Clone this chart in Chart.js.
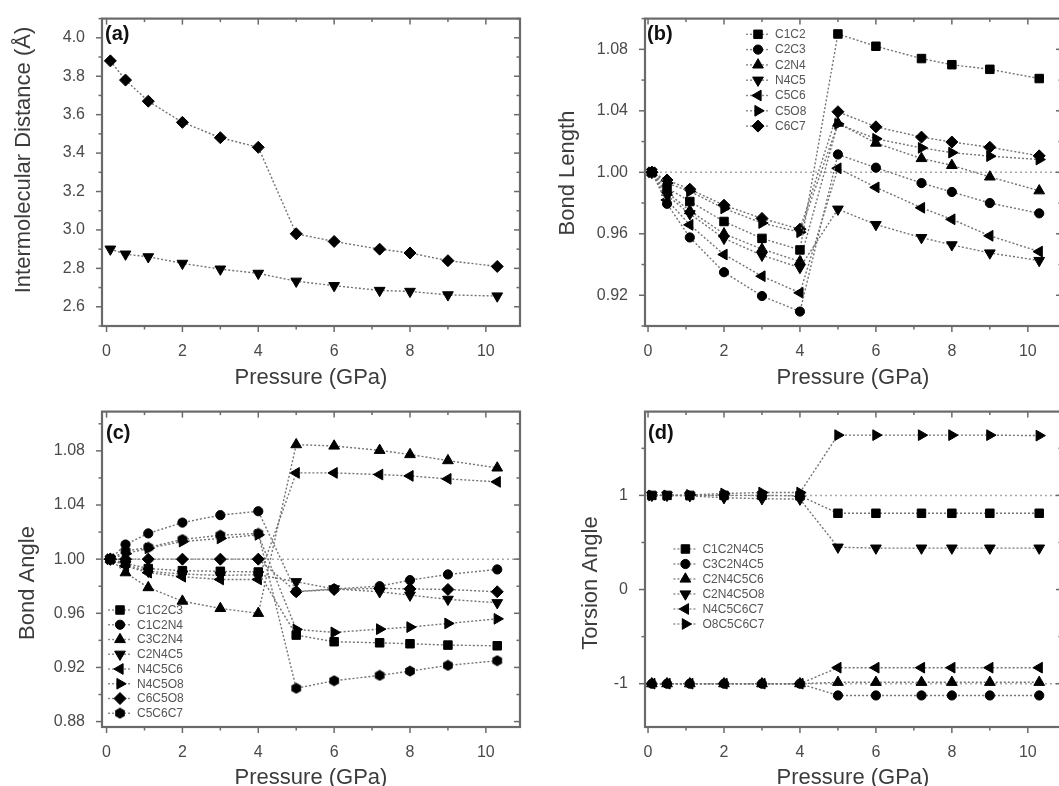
<!DOCTYPE html>
<html>
<head>
<meta charset="utf-8">
<script src="https://cdn.jsdelivr.net/npm/chart.js@4/dist/chart.umd.min.js"></script>
<style>
html,body{margin:0;padding:0;background:#fff;overflow:hidden;width:1059px;height:786px;position:relative;}
canvas{position:absolute;background:#fff;}
</style>
</head>
<body>
<canvas id="pa" width="530" height="393" style="left:0px;top:0px"></canvas>
<canvas id="pb" width="545" height="393" style="left:530px;top:0px"></canvas>
<canvas id="pc" width="530" height="393" style="left:0px;top:393px"></canvas>
<canvas id="pd" width="545" height="393" style="left:530px;top:393px"></canvas>
<script>
// ---------------- DATA ----------------
const PRESSURE = [0.1, 0.5, 1.1, 2, 3, 4, 5, 6, 7.2, 8, 9, 10.3];
const X_TICKS = ['0', '2', '4', '6', '8', '10'];

// (a) Intermolecular distance (Å)
const A_UPPER = [3.88, 3.78, 3.67, 3.56, 3.48, 3.43, 2.98, 2.94, 2.90, 2.88, 2.84, 2.81];
const A_LOWER = [2.90, 2.874, 2.86, 2.826, 2.796, 2.774, 2.733, 2.71, 2.685, 2.68, 2.662, 2.656];
const A_Y_TICKS = ['2.6', '2.8', '3.0', '3.2', '3.4', '3.6', '3.8', '4.0'];

// (b) Bond length (normalised)
const B_NAMES = ['C1C2', 'C2C3', 'C2N4', 'N4C5', 'C5C6', 'C5O8', 'C6C7'];
const B_C1C2 = [1.0, 0.990, 0.981, 0.968, 0.957, 0.9495, 1.090, 1.082, 1.074, 1.070, 1.067, 1.061];
const B_C2C3 = [1.0, 0.9795, 0.9576, 0.935, 0.9195, 0.9094, 1.0116, 1.003, 0.993, 0.9872, 0.980, 0.9733];
const B_C2N4 = [1.0, 0.987, 0.975, 0.960, 0.950, 0.942, 1.032, 1.019, 1.009, 1.0045, 0.997, 0.988];
const B_N4C5 = [1.0, 0.985, 0.973, 0.957, 0.946, 0.938, 0.976, 0.966, 0.9575, 0.9528, 0.9475, 0.9426];
const B_C5C6 = [1.0, 0.982, 0.9658, 0.9465, 0.9324, 0.9216, 1.0026, 0.9902, 0.9769, 0.9694, 0.9587, 0.9484];
const B_C5O8 = [1.0, 0.993, 0.9876, 0.9765, 0.967, 0.961, 1.0315, 1.0218, 1.0159, 1.0128, 1.0105, 1.0083];
const B_C6C7 = [1.0, 0.995, 0.989, 0.9786, 0.970, 0.963, 1.0394, 1.0296, 1.0229, 1.0197, 1.0163, 1.0107];
const B_Y_TICKS = ['0.92', '0.96', '1.00', '1.04', '1.08'];

// (c) Bond angle (normalised)
const C_NAMES = ['C1C2C3', 'C1C2N4', 'C3C2N4', 'C2N4C5', 'N4C5C6', 'N4C5O8', 'C6C5O8', 'C5C6C7'];
const C_C1C2C3 = [1.0, 0.997, 0.993, 0.9915, 0.991, 0.9905, 0.9439, 0.939, 0.9382, 0.9375, 0.9365, 0.936];
const C_C1C2N4 = [1.0, 1.0108, 1.019, 1.027, 1.0325, 1.0354, 0.976, 0.978, 0.980, 0.9845, 0.9887, 0.9924];
const C_C3C2N4 = [1.0, 0.990, 0.979, 0.969, 0.9636, 0.960, 1.0846, 1.0836, 1.0804, 1.0773, 1.0728, 1.0674];
const C_C2N4C5 = [1.0, 0.996, 0.991, 0.989, 0.988, 0.9885, 0.9833, 0.978, 0.9759, 0.9734, 0.9703, 0.9678];
const C_N4C5C6 = [1.0, 0.995, 0.990, 0.987, 0.985, 0.985, 1.0637, 1.0637, 1.0625, 1.0615, 1.0593, 1.0571];
const C_N4C5O8 = [1.0, 1.004, 1.008, 1.013, 1.0153, 1.018, 0.9481, 0.9459, 0.9483, 0.9498, 0.9525, 0.9559];
const C_C6C5O8 = [1.0, 1.0, 1.0, 1.0, 1.0, 1.0, 0.9759, 0.9776, 0.9784, 0.978, 0.9776, 0.9759];
const C_C5C6C7 = [1.0, 1.006, 1.0087, 1.0145, 1.0177, 1.019, 0.9046, 0.9102, 0.9141, 0.9173, 0.9215, 0.925];
const C_Y_TICKS = ['0.88', '0.92', '0.96', '1.00', '1.04', '1.08'];

// (d) Torsion angle (normalised)
const D_NAMES = ['C1C2N4C5', 'C3C2N4C5', 'C2N4C5C6', 'C2N4C5O8', 'N4C5C6C7', 'O8C5C6C7'];
const D_C1C2N4C5 = [1, 1, 1, 1, 1, 0.995, 0.81, 0.81, 0.81, 0.81, 0.81, 0.81];
const D_C3C2N4C5 = [-1, -1, -1, -1, -1, -1, -1.125, -1.125, -1.125, -1.125, -1.125, -1.125];
const D_C2N4C5C6 = [-1, -1, -1, -1, -1, -1, -0.985, -0.985, -0.985, -0.985, -0.985, -0.985];
const D_C2N4C5O8 = [1, 1, 0.995, 0.975, 0.965, 0.96, 0.45, 0.44, 0.44, 0.44, 0.44, 0.44];
const D_N4C5C6C7 = [-1, -1, -1, -1, -1, -1, -0.83, -0.83, -0.83, -0.83, -0.83, -0.83];
const D_O8C5C6C7 = [1, 1, 1.005, 1.02, 1.03, 1.03, 1.64, 1.64, 1.64, 1.64, 1.64, 1.635];
const D_Y_TICKS = ['-1', '0', '1'];

// ---------------- STYLE ----------------
const FONT = '"Liberation Sans", Arial, Helvetica, sans-serif';

function makeHex() {
  const c = document.createElement('canvas');
  c.width = 12; c.height = 12;
  const g = c.getContext('2d');
  g.fillStyle = '#000';
  g.beginPath();
  for (let k = 0; k < 6; k++) {
    const a = Math.PI / 6 + k * Math.PI / 3;
    const px = 6 + 5.6 * Math.cos(a), py = 6 + 5.6 * Math.sin(a);
    if (k === 0) g.moveTo(px, py); else g.lineTo(px, py);
  }
  g.closePath(); g.fill();
  return c;
}
const HEX = makeHex();

const MARK = {
  square:  {style: 'rect', rot: 0, r: 6},
  circle:  {style: 'circle', rot: 0, r: 4.6},
  up:      {style: 'triangle', rot: 0, r: 6.2},
  down:    {style: 'triangle', rot: 180, r: 6.2},
  left:    {style: 'triangle', rot: 270, r: 6.2},
  right:   {style: 'triangle', rot: 90, r: 6.2},
  diamond: {style: 'rectRot', rot: 0, r: 6},
  hexagon: {style: HEX, rot: 0, r: 5.6}
};
const ORDER8 = ['square', 'circle', 'up', 'down', 'left', 'right', 'diamond', 'hexagon'];

function drawMarker(ctx, m, x, y) {
  ctx.save();
  ctx.fillStyle = '#000'; ctx.strokeStyle = '#000'; ctx.lineWidth = 1; ctx.setLineDash([]);
  if (typeof m.style !== 'string') { ctx.drawImage(m.style, x - m.style.width / 2, y - m.style.height / 2); ctx.restore(); return; }
  const r = m.r; let rad = m.rot * Math.PI / 180;
  ctx.beginPath();
  if (m.style === 'circle') ctx.arc(x, y, r, 0, Math.PI * 2);
  else if (m.style === 'rect') { const s = Math.SQRT1_2 * r; ctx.rect(x - s, y - s, 2 * s, 2 * s); }
  else if (m.style === 'rectRot') { ctx.moveTo(x, y - r); ctx.lineTo(x + r, y); ctx.lineTo(x, y + r); ctx.lineTo(x - r, y); }
  else if (m.style === 'triangle') {
    for (let k = 0; k < 3; k++) { const px = x + Math.sin(rad) * r, py = y - Math.cos(rad) * r; if (k === 0) ctx.moveTo(px, py); else ctx.lineTo(px, py); rad += 2 * Math.PI / 3; }
  }
  ctx.closePath(); ctx.fill(); ctx.stroke();
  ctx.restore();
}

const PANELS = {};

const decor = {
  id: 'decor',
  afterDatasetsDraw(chart) {
    const P = PANELS[chart.canvas.id]; if (!P) return;
    const ctx = chart.ctx, a = chart.chartArea, xs = chart.scales.x, ys = chart.scales.y;
    ctx.save();
    ctx.strokeStyle = '#6a6a6a'; ctx.setLineDash([]);
    const each = (min, max, step, fn) => { for (let k = Math.ceil(min / step - 1e-9); k * step <= max + 1e-9; k++) fn(k * step, Math.abs(Math.round(k) % 2) === 0); };
    ctx.lineWidth = 1.5;
    each(P.xmin, P.xmax, 1, (v, major) => {
      const px = xs.getPixelForValue(v); const len = major ? 6 : 3.5;
      ctx.beginPath(); ctx.moveTo(px, a.bottom); ctx.lineTo(px, a.bottom + len); ctx.stroke();
      ctx.beginPath(); ctx.moveTo(px, a.top); ctx.lineTo(px, a.top + len); ctx.stroke();
    });
    each(P.ymin, P.ymax, P.yMinor, (v, major) => {
      const py = ys.getPixelForValue(v); const len = major ? 6 : 3.5;
      ctx.beginPath(); ctx.moveTo(a.left - len, py); ctx.lineTo(a.left, py); ctx.stroke();
      ctx.beginPath(); ctx.moveTo(a.right - len, py); ctx.lineTo(a.right, py); ctx.stroke();
    });
    ctx.lineWidth = 2.2;
    ctx.strokeRect(a.left, a.top, a.right - a.left, a.bottom - a.top);
    if (P.legend) {
      const L = P.legend;
      chart.data.datasets.filter(d => d.marker).forEach((d, i) => {
        const y = L.y + i * L.dy;
        ctx.save();
        ctx.strokeStyle = '#8a8a8a'; ctx.lineWidth = 1.4; ctx.setLineDash([2, 2]);
        ctx.beginPath(); ctx.moveTo(L.x - 12, y); ctx.lineTo(L.x + 12, y); ctx.stroke();
        ctx.restore();
        drawMarker(ctx, d.marker, L.x, y);
        ctx.fillStyle = '#555'; ctx.font = '12px ' + FONT; ctx.textAlign = 'left'; ctx.textBaseline = 'middle';
        ctx.fillText(d.label, L.x + 17, y + 0.5);
      });
    }
    ctx.fillStyle = '#111'; ctx.font = 'bold 20px ' + FONT; ctx.textAlign = 'left'; ctx.textBaseline = 'middle';
    ctx.fillText(P.tag, P.tagX, P.tagY);
    ctx.fillStyle = '#3c3c3c'; ctx.font = '22px ' + FONT; ctx.textAlign = 'center';
    ctx.fillText('Pressure (GPa)', P.xtX, P.xtY);
    ctx.save(); ctx.translate(P.ytX, P.ytY); ctx.rotate(-Math.PI / 2);
    ctx.fillText(P.yTitle, 0, 0); ctx.restore();
    ctx.restore();
  }
};

function build(id, P) {
  PANELS[id] = P;
  const datasets = [];
  P.series.forEach((s) => {
    const m = MARK[s.marker];
    datasets.push({
      label: s.name, marker: m,
      data: PRESSURE.map((x, k) => ({x: x, y: s.values[k]})),
      borderColor: '#737373', borderWidth: 1.4, borderDash: [2, 2],
      pointStyle: m.style, pointRotation: m.rot, pointRadius: m.r,
      pointBackgroundColor: '#000', pointBorderColor: '#000', pointBorderWidth: 1,
      fill: false, tension: 0, order: 1
    });
  });
  (P.refs || []).forEach(v => datasets.push({
    label: '', data: [{x: P.xmin, y: v}, {x: P.xmax, y: v}],
    borderColor: '#a8a8a8', borderWidth: 1.5, borderDash: [2, 3], pointRadius: 0, fill: false, order: 5
  }));
  const tickFont = {family: FONT, size: 16};
  new Chart(document.getElementById(id), {
    type: 'line',
    data: {datasets},
    options: {
      responsive: false, animation: false, events: [],
      layout: {padding: {left: 0, top: P.area.t, right: P.w - P.area.r, bottom: 0}},
      plugins: {legend: {display: false}, tooltip: {enabled: false}},
      scales: {
        x: {
          type: 'linear', min: P.xmin, max: P.xmax,
          grid: {display: false}, border: {display: false},
          afterBuildTicks: s => { s.ticks = X_TICKS.map(t => ({value: parseFloat(t)})); },
          ticks: {autoSkip: false, maxRotation: 0, padding: 8, color: '#4a4a4a', font: tickFont,
                  callback: (v, i) => X_TICKS[i]},
          afterFit: s => { s.height = P.h - P.area.b; }
        },
        y: {
          type: 'linear', min: P.ymin, max: P.ymax,
          grid: {display: false}, border: {display: false},
          afterBuildTicks: s => { s.ticks = P.yTicks.map(t => ({value: parseFloat(t)})); },
          ticks: {autoSkip: false, padding: 9, color: '#4a4a4a', font: tickFont,
                  callback: (v, i) => P.yTicks[i]},
          afterFit: s => { s.width = P.area.l; }
        }
      }
    },
    plugins: [decor]
  });
}

build('pa', {
  w: 530, h: 393, area: {l: 102, r: 520, t: 15, b: 326},
  xmin: -0.12, xmax: 10.9, ymin: 2.5, ymax: 4.1, yMinor: 0.1, yTicks: A_Y_TICKS,
  series: [{name: 'upper', marker: 'diamond', values: A_UPPER}, {name: 'lower', marker: 'down', values: A_LOWER}],
  refs: [], legend: null,
  tag: '(a)', tagX: 105, tagY: 34, yTitle: 'Intermolecular Distance (Å)', ytX: 24, ytY: 160, xtX: 311, xtY: 378
});

build('pb', {
  w: 545, h: 393, area: {l: 115, r: 532, t: 15, b: 326},
  xmin: -0.08, xmax: 10.9, ymin: 0.9, ymax: 1.1, yMinor: 0.02, yTicks: B_Y_TICKS,
  series: [B_C1C2, B_C2C3, B_C2N4, B_N4C5, B_C5C6, B_C5O8, B_C6C7].map((v, i) => ({name: B_NAMES[i], marker: ORDER8[i], values: v})),
  refs: [1], legend: {x: 228, y: 34.3, dy: 15.3},
  tag: '(b)', tagX: 117, tagY: 34, yTitle: 'Bond Length', ytX: 38, ytY: 173, xtX: 323, xtY: 378
});

build('pc', {
  w: 530, h: 393, area: {l: 102, r: 520, t: 18, b: 334},
  xmin: -0.12, xmax: 10.9, ymin: 0.876, ymax: 1.109, yMinor: 0.02, yTicks: C_Y_TICKS,
  series: [C_C1C2C3, C_C1C2N4, C_C3C2N4, C_C2N4C5, C_N4C5C6, C_N4C5O8, C_C6C5O8, C_C5C6C7].map((v, i) => ({name: C_NAMES[i], marker: ORDER8[i], values: v})),
  refs: [1], legend: {x: 120, y: 217, dy: 14.75},
  tag: '(c)', tagX: 106, tagY: 40, yTitle: 'Bond Angle', ytX: 28, ytY: 190, xtX: 311, xtY: 385
});

build('pd', {
  w: 545, h: 393, area: {l: 115, r: 532, t: 18, b: 334},
  xmin: -0.08, xmax: 10.9, ymin: -1.46, ymax: 1.89, yMinor: 0.5, yTicks: D_Y_TICKS,
  series: [D_C1C2N4C5, D_C3C2N4C5, D_C2N4C5C6, D_C2N4C5O8, D_N4C5C6C7, D_O8C5C6C7].map((v, i) => ({name: D_NAMES[i], marker: ORDER8[i], values: v})),
  refs: [1, -1], legend: {x: 155.4, y: 156, dy: 15},
  tag: '(d)', tagX: 118, tagY: 40, yTitle: 'Torsion Angle', ytX: 61, ytY: 190, xtX: 323, xtY: 385
});
</script>
</body>
</html>
